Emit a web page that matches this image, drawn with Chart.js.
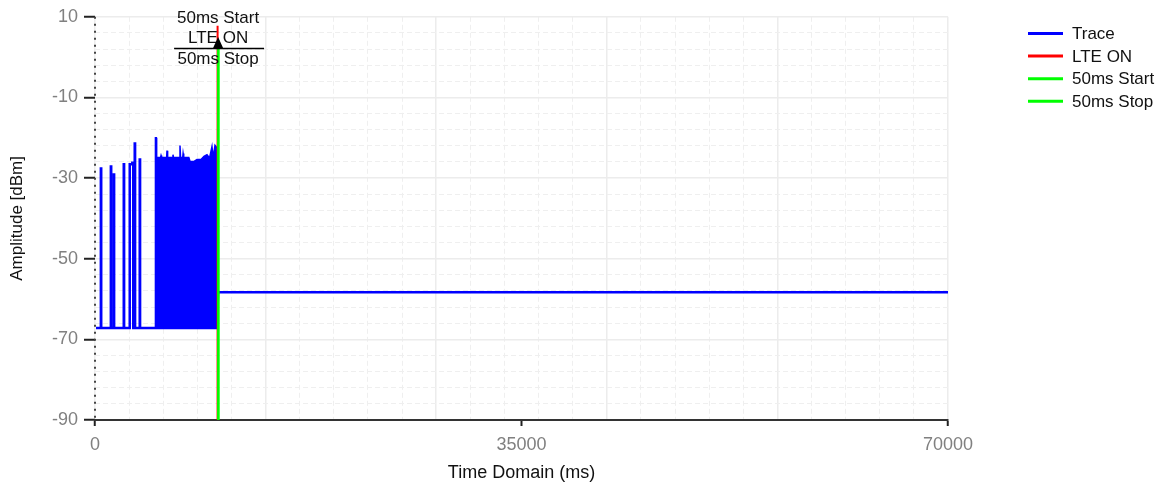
<!DOCTYPE html>
<html><head><meta charset="utf-8">
<script src="https://cdn.jsdelivr.net/npm/chart.js@4/dist/chart.umd.min.js"></script>
<style>html,body{margin:0;padding:0;background:#fff;}canvas{display:block;}</style>
</head><body>
<canvas id="c" width="1167" height="491"></canvas>
<script>
// ---------------- data ----------------
const seriesNames = ['Trace', 'LTE ON', '50ms Start', '50ms Stop'];
const seriesColors = ['#0000ff', '#ff0000', '#00ff00', '#00ff00'];

// sparse part of the trace (baseline with isolated bursts), then the flat level after LTE ON
const traceTime = [80, 480, 480, 510, 510, 1300, 1300, 1330, 1330, 1540, 1540, 1570, 1570,
  2360, 2360, 2390, 2390, 2850, 2850, 3060, 3060, 3140, 3140, 3260, 3260, 3290, 3290,
  3670, 3670, 3700, 3700, 10000, 10100, 70000];
const traceAmp = [-67.2, -67.2, -27.6, -27.6, -67.2, -67.2, -27.1, -27.1, -67.2, -67.2, -29.1, -29.1, -67.2,
  -67.2, -26.6, -26.6, -67.2, -67.2, -26.6, -26.6, -26.2, -26.2, -67.2, -67.2, -21.4, -21.4, -67.2,
  -67.2, -25.4, -25.4, -67.2, -67.2, -58.3, -58.3];

// dense burst block (upper envelope, filled down to the baseline)
const blockTime = [4960, 4960, 5030, 5060, 5380, 5420, 5470, 5880, 5910, 5960, 6370, 6400, 6440,
  6940, 6975, 7020, 7200, 7230, 7280, 7700, 7800, 8100, 8370, 8700, 8945, 9190, 9400, 9600, 9700, 9847, 10000, 10000];
const blockAmp = [-67.2, -20.0, -20.0, -24.9, -24.9, -24.4, -24.9, -24.9, -23.2, -24.9, -24.9, -24.2, -24.9,
  -24.9, -21.9, -24.9, -24.9, -23.9, -24.9, -24.9, -25.9, -25.9, -25.4, -25.4, -24.6, -24.2, -25.0, -22.2, -24.9, -21.9, -22.5, -67.2];
const baseLevel = -67.2;

// vertical markers: LTE ON, 50ms Start, 50ms Stop
const markerTimes = [10060, 10100, 10150];
const markerTops = [7.8, 4.1, 4.1];
const annotationTexts = ['50ms Start', 'LTE ON', '50ms Stop'];

// axes
const xTickLabels = [0, 35000, 70000];
const xGridStep = 2800, xMajorStep = 14000;
const yTickLabels = [-90, -70, -50, -30, -10, 10];
const yGridStep = 4;
const yMin = -90, yMax = 10, xMin = 0, xMax = 70000;

// ---------------- build ----------------
const FONT = '"Liberation Sans", Arial, sans-serif';
const zip = (xs, ys) => xs.map((x, i) => ({ x: x, y: ys[i] }));

const xGridValues = [];
for (let v = xMin; v <= xMax + 1e-6; v += xGridStep) xGridValues.push(v);
const xTickValues = Array.from(new Set(xGridValues.concat(xTickLabels))).sort((a, b) => a - b);
const yTickValues = [];
for (let v = yMin; v <= yMax + 1e-6; v += yGridStep) yTickValues.push(v);

const isXMajor = v => Math.abs(v % xMajorStep) < 1e-6;
const isXGrid = v => Math.abs(v % xGridStep) < 1e-6;
const isYMajor = v => yTickLabels.includes(v);

const datasets = [
  { label: seriesNames[0], data: zip(traceTime, traceAmp), borderColor: seriesColors[0], borderWidth: 2.5, pointRadius: 0, order: 3, legend: true },
  { label: seriesNames[1], data: [{ x: markerTimes[0], y: markerTops[0] }, { x: markerTimes[0], y: yMin }], borderColor: seriesColors[1], borderWidth: 2, pointRadius: 0, order: 2, legend: true },
  { label: seriesNames[2], data: [{ x: markerTimes[1], y: markerTops[1] }, { x: markerTimes[1], y: yMin }], borderColor: seriesColors[2], borderWidth: 2, pointRadius: 0, order: 1, legend: true },
  { label: seriesNames[3], data: [{ x: markerTimes[2], y: markerTops[2] }, { x: markerTimes[2], y: yMin }], borderColor: seriesColors[3], borderWidth: 2, pointRadius: 0, order: 0, legend: true },
  { label: 'TraceBlock', data: zip(blockTime, blockAmp), borderColor: seriesColors[0], backgroundColor: seriesColors[0], borderWidth: 1.5, pointRadius: 0, order: 4, fill: { value: baseLevel }, legend: false }
];

const decorPlugin = {
  id: 'decor',
  beforeDatasetsDraw(chart) {
    const { ctx, chartArea } = chart;
    ctx.save();
    ctx.strokeStyle = '#444';
    ctx.lineWidth = 2;
    ctx.setLineDash([2, 5]);
    ctx.beginPath();
    ctx.moveTo(chartArea.left, chartArea.top);
    ctx.lineTo(chartArea.left, chartArea.bottom);
    ctx.stroke();
    ctx.restore();
  },
  afterDatasetsDraw(chart) {
    const { ctx } = chart;
    const xs = chart.scales.x;
    const px = xs.getPixelForValue(markerTimes[0]) + 0.5;
    ctx.save();
    ctx.font = '17px ' + FONT;
    ctx.fillStyle = '#111';
    ctx.textAlign = 'center';
    ctx.textBaseline = 'middle';
    ctx.fillText(annotationTexts[0], px, 18);
    ctx.fillText(annotationTexts[1], px, 38);
    ctx.fillText(annotationTexts[2], px, 59);
    ctx.strokeStyle = '#000';
    ctx.lineWidth = 1.5;
    ctx.beginPath();
    ctx.moveTo(px - 44, 48.5);
    ctx.lineTo(px + 46, 48.5);
    ctx.stroke();
    ctx.fillStyle = '#000';
    ctx.beginPath();
    ctx.moveTo(px, 37);
    ctx.lineTo(px - 5, 48);
    ctx.lineTo(px + 5, 48);
    ctx.closePath();
    ctx.fill();
    // legend
    ctx.font = '17px ' + FONT;
    ctx.textAlign = 'left';
    ctx.textBaseline = 'middle';
    let row = 0;
    chart.data.datasets.forEach(ds => {
      if (!ds.legend) return;
      const y = 33.5 + row * 22.6;
      ctx.strokeStyle = ds.borderColor;
      ctx.lineWidth = 3;
      ctx.setLineDash([]);
      ctx.beginPath();
      ctx.moveTo(1028, y);
      ctx.lineTo(1063, y);
      ctx.stroke();
      ctx.fillStyle = '#111';
      ctx.fillText(ds.label, 1072, y + 1);
      row++;
    });
    ctx.restore();
  }
};

new Chart(document.getElementById('c'), {
  type: 'line',
  data: { datasets: datasets },
  options: {
    responsive: false,
    animation: false,
    events: [],
    layout: { padding: { top: 16, right: 219, bottom: 0, left: 0 } },
    plugins: { legend: { display: false }, tooltip: { enabled: false } },
    scales: {
      x: {
        type: 'linear', min: xMin, max: xMax,
        afterBuildTicks: s => { s.ticks = xTickValues.map(v => ({ value: v })); },
        afterFit: s => { s.height = 71; },
        ticks: {
          autoSkip: false, maxRotation: 0, padding: 8,
          color: '#808080', font: { family: FONT, size: 18 },
          callback: v => xTickLabels.includes(v) ? String(v) : ''
        },
        grid: {
          color: c => (c.tick && isXGrid(c.tick.value)) ? (isXMajor(c.tick.value) ? '#ececec' : '#efefef') : 'rgba(0,0,0,0)',
          lineWidth: c => (c.tick && isXMajor(c.tick.value)) ? 1.5 : 1,
          tickLength: 6, tickWidth: 2,
          tickColor: c => (c.tick && xTickLabels.includes(c.tick.value)) ? '#222' : 'rgba(0,0,0,0)'
        },
        border: { display: true, color: '#333', width: 2, dash: c => (c.tick && isXMajor(c.tick.value)) ? [] : [5, 3] },
        title: { display: true, text: 'Time Domain (ms)', color: '#111', font: { family: FONT, size: 18 }, padding: { top: 4, bottom: 7 } }
      },
      y: {
        type: 'linear', min: yMin, max: yMax,
        afterBuildTicks: s => { s.ticks = yTickValues.map(v => ({ value: v })); },
        afterFit: s => { s.width = 95; },
        ticks: {
          autoSkip: false, padding: 6,
          color: '#808080', font: { family: FONT, size: 18 },
          callback: v => isYMajor(v) ? String(v) : ''
        },
        grid: {
          color: c => (c.tick && isYMajor(c.tick.value)) ? '#ececec' : '#efefef',
          lineWidth: c => (c.tick && isYMajor(c.tick.value)) ? 1.5 : 1,
          tickLength: 11, tickWidth: 2,
          tickColor: c => (c.tick && isYMajor(c.tick.value)) ? '#222' : 'rgba(0,0,0,0)'
        },
        border: { display: false, dash: c => (c.tick && isYMajor(c.tick.value)) ? [] : [5, 3] },
        title: { display: true, text: 'Amplitude [dBm]', color: '#111', font: { family: FONT, size: 17 }, padding: { top: 7, bottom: 4 } }
      }
    }
  },
  plugins: [decorPlugin]
});
</script>
</body></html>
